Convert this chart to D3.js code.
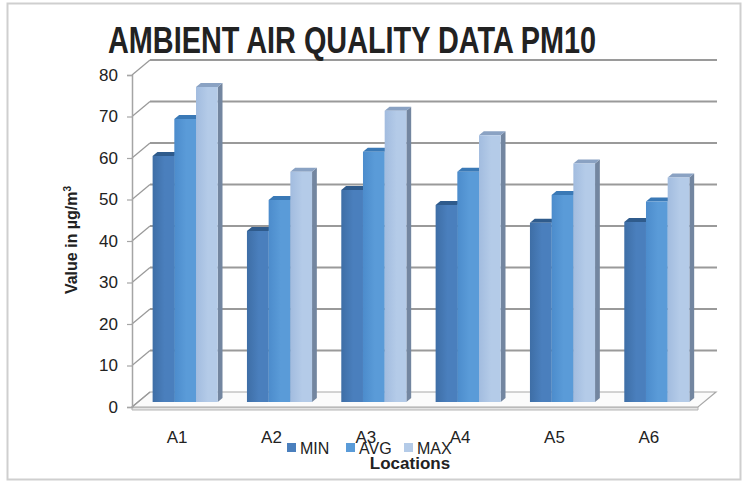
<!DOCTYPE html>
<html>
<head>
<meta charset="utf-8">
<script src="https://cdn.jsdelivr.net/npm/d3@7"></script>
<style>
  html, body { margin: 0; padding: 0; background: #fff; }
  svg { display: block; }
  text { font-family: "Liberation Sans Narrow", "Arial Narrow", "Liberation Sans", sans-serif; fill: #222; }
</style>
</head>
<body>
<svg id="chart" width="753" height="488"></svg>
<script>
// PM10 concentrations per monitoring location (µg/m³)
const categories = ["A1", "A2", "A3", "A4", "A5", "A6"];
const seriesNames = ["MIN", "AVG", "MAX"];
const minValues = [59.3, 41.2, 51.1, 47.5, 43.2, 43.4];
const avgValues = [68.2, 48.7, 60.3, 55.5, 49.9, 48.3];
const maxValues = [75.9, 55.5, 70.2, 64.3, 57.5, 54.1];
const yTicks = [0, 10, 20, 30, 40, 50, 60, 70, 80];

const seriesValues = [minValues, avgValues, maxValues];

const svg = d3.select("#chart");

// outer frame
svg.append("rect")
  .attr("x", 7.5).attr("y", 3.5).attr("width", 733).attr("height", 476)
  .attr("fill", "#fff").attr("stroke", "#cfcfcf").attr("stroke-width", 2);

// 3D layout: front plane plus a depth offset
const DX = 18, DY = -15;          // full depth of the plot box
const proj = (x, y, t) => [x + DX * t, y + DY * t];

const y = d3.scaleLinear().domain([0, 80]).range([407, 75]);
const xFrontLeft = 132, xFrontRight = 698;
const x = d3.scaleBand().domain(categories)
  .range([xFrontLeft, xFrontRight]).paddingInner(0.31).paddingOuter(0.155);
const xs = d3.scaleBand().domain(seriesNames).range([0, x.bandwidth()]).padding(0);

const gridColor = "#9a9a9a";

// floor
const floorPts = [proj(xFrontLeft, y(0), 0), proj(xFrontRight, y(0), 0),
                  proj(xFrontRight, y(0), 1), proj(xFrontLeft, y(0), 1)];
svg.append("path")
  .attr("d", `M${floorPts[0]}L${floorPts[1]}L${floorPts[1][0]},${floorPts[1][1] + 3}L${floorPts[0][0]},${floorPts[0][1] + 3}Z`)
  .attr("fill", "#e4e4e4").attr("stroke", "#b5b5b5").attr("stroke-width", 1);
svg.append("path")
  .attr("d", "M" + floorPts.join("L") + "Z")
  .attr("fill", "#fbfbfb").attr("stroke", "#a8a8a8").attr("stroke-width", 1.2);

// back wall gridlines and left wall obliques
const grid = svg.append("g");
yTicks.forEach(v => {
  const a = proj(xFrontLeft, y(v), 0), b = proj(xFrontLeft, y(v), 1);
  const c = proj(xFrontRight + 1, y(v), 1);
  grid.append("line").attr("x1", a[0]).attr("y1", a[1]).attr("x2", b[0]).attr("y2", b[1])
    .attr("stroke", gridColor).attr("stroke-width", 1.3);
  if (v > 0) {
    grid.append("line").attr("x1", b[0]).attr("y1", b[1]).attr("x2", c[0]).attr("y2", c[1])
      .attr("stroke", gridColor).attr("stroke-width", 2.2);
  }
});

// front vertical axis with ticks and labels
const yAxis = d3.axisLeft(y).tickValues(yTicks).tickSize(5).tickPadding(9);
const gy = svg.append("g").attr("transform", `translate(${xFrontLeft},0)`).call(yAxis);
gy.select(".domain").attr("stroke", "#a5a5a5").attr("stroke-width", 1.5);
gy.selectAll(".tick line").attr("stroke", "#a5a5a5").attr("stroke-width", 1.2);
gy.selectAll(".tick text")
  .attr("font-size", 17).attr("fill", "#222")
  .attr("font-family", "'Liberation Sans Narrow', 'Liberation Sans', sans-serif");

// gradients for bar front faces
const defs = svg.append("defs");
const faceColors = [
  { front: ["#3e6ea6", "#4a7fbd"], top: "#2f5b8c", side: "#34628f" },
  { front: ["#4c8ccc", "#5a9bd8"], top: "#3a79b6", side: "#3e74a8" },
  { front: ["#a2bcdf", "#b4cbe8"], top: "#8aa2c3", side: "#7386a0" }
];
faceColors.forEach((c, i) => {
  const g = defs.append("linearGradient").attr("id", "grad" + i)
    .attr("x1", 0).attr("x2", 1).attr("y1", 0).attr("y2", 0);
  g.append("stop").attr("offset", "0%").attr("stop-color", c.front[0]);
  g.append("stop").attr("offset", "55%").attr("stop-color", c.front[1]);
  g.append("stop").attr("offset", "100%").attr("stop-color", c.front[1]);
});

// bars: front face, top and side, drawn left to right
const t0 = 1 / 3, t1 = 0.6;
const bars = svg.append("g");
categories.forEach((cat, ci) => {
  seriesNames.forEach((s, si) => {
    const v = seriesValues[si][ci];
    const xl = x(cat) + xs(s), xr = xl + xs.bandwidth();
    const fTL = proj(xl, y(v), t0), fTR = proj(xr, y(v), t0);
    const fBR = proj(xr, y(0), t0), fBL = proj(xl, y(0), t0);
    const bTL = proj(xl, y(v), t1), bTR = proj(xr, y(v), t1), bBR = proj(xr, y(0), t1);
    const g = bars.append("g");
    g.append("path").attr("d", `M${fTR}L${bTR}L${bBR}L${fBR}Z`).attr("fill", faceColors[si].side);
    g.append("path").attr("d", `M${fTL}L${fTR}L${bTR}L${bTL}Z`).attr("fill", faceColors[si].top);
    g.append("path").attr("d", `M${fTL}L${fTR}L${fBR}L${fBL}Z`).attr("fill", `url(#grad${si})`);
  });
});

// category labels along the front edge
const xAxis = d3.axisBottom(x).tickSize(0).tickPadding(0);
const gx = svg.append("g").attr("transform", `translate(-2,${y(0) + 24})`).call(xAxis);
gx.select(".domain").remove();
gx.selectAll(".tick text").attr("font-size", 17).attr("fill", "#222")
  .attr("font-family", "'Liberation Sans Narrow', 'Liberation Sans', sans-serif");

// title
svg.append("text")
  .attr("x", 352).attr("y", 53).attr("text-anchor", "middle")
  .attr("font-size", 36).attr("font-weight", "bold").attr("fill", "#111")
  .attr("textLength", 488).attr("lengthAdjust", "spacingAndGlyphs")
  .text("AMBIENT AIR QUALITY DATA PM10");

// y axis title
const yTitle = svg.append("text")
  .attr("transform", "translate(77,240) rotate(-90)")
  .attr("text-anchor", "middle").attr("font-size", 16).attr("font-weight", "bold").attr("fill", "#222");
yTitle.append("tspan").text("Value in µg/m");
yTitle.append("tspan").attr("font-size", 10).attr("dy", -6).text("3");

// legend
const legendX = [287, 346, 404];
const legend = svg.append("g");
seriesNames.forEach((s, i) => {
  legend.append("rect").attr("x", legendX[i]).attr("y", 443).attr("width", 9).attr("height", 9)
    .attr("fill", faceColors[i].front[1]);
  legend.append("text").attr("x", legendX[i] + 13).attr("y", 454)
    .attr("font-size", 16).attr("fill", "#222").text(s);
});

// x axis title
svg.append("text")
  .attr("x", 410).attr("y", 469).attr("text-anchor", "middle")
  .attr("font-size", 17).attr("font-weight", "bold").attr("fill", "#222")
  .text("Locations");
</script>
</body>
</html>
